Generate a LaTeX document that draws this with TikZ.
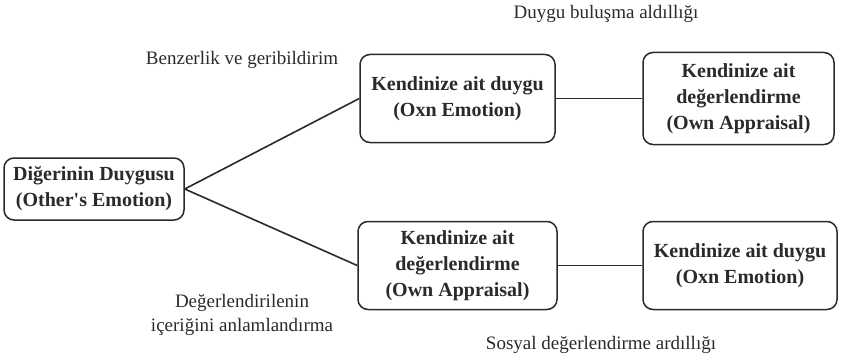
\documentclass[tikz,border=0pt]{standalone}
\usepackage{fontspec}
\setmainfont{Liberation Serif}[Ligatures=TeXOff]
\definecolor{ink}{HTML}{2A2A2A}
\begin{document}
\begin{tikzpicture}[x=1pt,y=-1pt,
  box/.style={draw=ink, line width=1.5pt, rounded corners=10pt, align=center,
    inner sep=0pt, text=ink, font=\fontsize{20}{26}\selectfont\bfseries},
  lbl/.style={align=center, inner sep=0pt, text=ink, font=\fontsize{19}{24}\selectfont},
  conn/.style={draw=ink, line width=1.6pt},
  connr/.style={draw=ink, line width=1.1pt}]
\useasboundingbox (0,0) rectangle (842,361);
\node[box, minimum width=180pt, minimum height=62pt] (A) at (94,189) {Diğerinin Duygusu\\(Other's Emotion)};
\node[box, minimum width=195pt, minimum height=88pt] (B) at (457.5,98.5) {Kendinize ait duygu\\(Oxn Emotion)};
\node[box, minimum width=191pt, minimum height=92pt] (C) at (738.5,98.5) {Kendinize ait\\değerlendirme\\(Own Appraisal)};
\node[box, minimum width=199pt, minimum height=88pt] (D) at (457.5,265.5) {Kendinize ait\\değerlendirme\\(Own Appraisal)};
\node[box, minimum width=194pt, minimum height=88pt] (E) at (740,265.5) {Kendinize ait duygu\\(Oxn Emotion)};
\node[lbl] (L1) at (606,14) {Duygu buluşma aldıllığı};
\node[lbl] (L2) at (242,60) {Benzerlik ve geribildirim};
\node[lbl] (L3) at (242,315) {Değerlendirilenin\\içeriğini anlamlandırma};
\node[lbl] (L4) at (601,345) {Sosyal değerlendirme ardıllığı};
\draw[conn] (A.east) -- (B.west);
\draw[conn] (A.east) -- (D.west);
\draw[connr] (B.east) -- (C.west);
\draw[connr] (D.east) -- (E.west);
\end{tikzpicture}
\end{document}
